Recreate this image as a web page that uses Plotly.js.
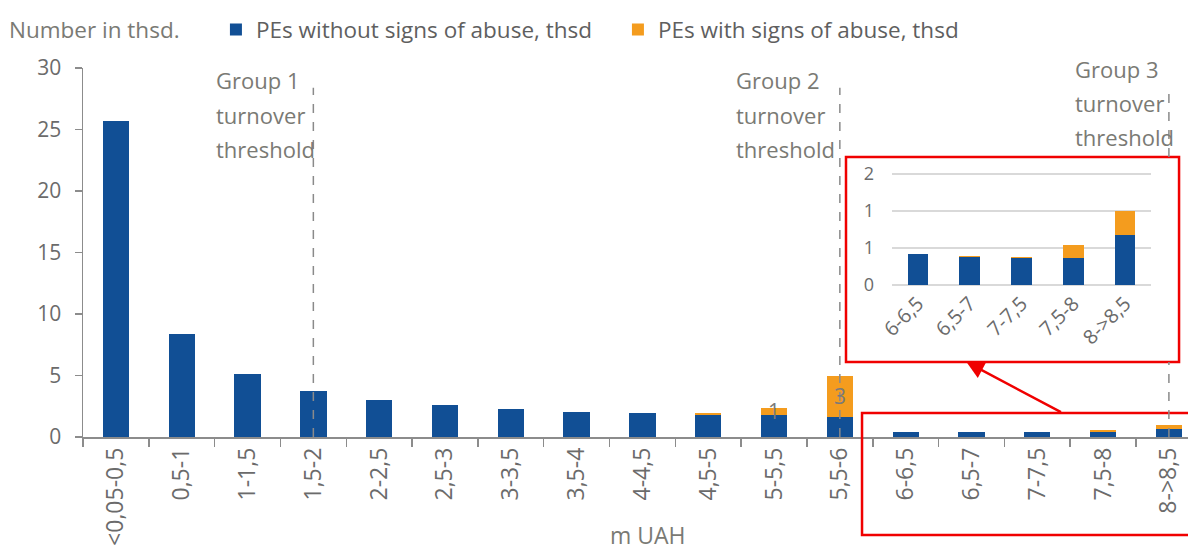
<!DOCTYPE html>
<html>
<head>
<meta charset="utf-8">
<script src="https://cdn.plot.ly/plotly-3.0.1.min.js"></script>
<style>html,body{margin:0;padding:0;background:#fff;}#chart{width:1188px;height:554px;}</style>
</head>
<body>
<div id="chart"></div>
<script>
// ---- data ----
var categories = ["<0,05-0,5","0,5-1","1-1,5","1,5-2","2-2,5","2,5-3","3-3,5","3,5-4","4-4,5","4,5-5","5-5,5","5,5-6","6-6,5","6,5-7","7-7,5","7,5-8","8->8,5"];
var noAbuse   = [25.7, 8.37, 5.12, 3.7, 2.98, 2.6, 2.27, 2.03, 1.95, 1.8, 1.79, 1.63, 0.42, 0.38, 0.37, 0.37, 0.68];
var withAbuse = [0, 0, 0, 0, 0, 0, 0, 0, 0, 0.15, 0.57, 3.33, 0, 0.01, 0.005, 0.17, 0.32];
var abuseLabels = ["","","","","","","","","","","1","3","","","","",""];
var insetCount = 5;
var insetCategories = categories.slice(-insetCount);
var insetNoAbuse = noAbuse.slice(-insetCount);
var insetWithAbuse = withAbuse.slice(-insetCount);
var insetTickVals = [0, 0.5, 1, 1.5];
var insetTickText = ["0", "1", "1", "2"];
var seriesNames = ["PEs without signs of abuse, thsd", "PEs with signs of abuse, thsd"];
var thresholdCats = ["1,5-2", "5,5-6", "8->8,5"];
var thresholdLines = [["Group 1","turnover","threshold"],["Group 2","turnover","threshold"],["Group 3","turnover","threshold"]];
var yTitle = "Number in thsd.";
var xTitle = "m UAH";

// ---- style ----
var BLUE = "#114F95", ORANGE = "#F49C1E", RED = "#F00000";
var FONT = "'Open Sans', sans-serif";
var TICKC = "#6b6b6b", TEXTC = "#7a7a74", AXC = "#8c8c8c";

var traces = [
  {type:"bar", x:categories, y:noAbuse, name:seriesNames[0], marker:{color:BLUE}, width:0.4, xaxis:"x", yaxis:"y"},
  {type:"bar", x:categories, y:withAbuse, name:seriesNames[1], marker:{color:ORANGE}, width:0.4, xaxis:"x", yaxis:"y"},
  {type:"bar", x:insetCategories, y:insetNoAbuse, marker:{color:BLUE}, width:0.4, xaxis:"x2", yaxis:"y2", showlegend:false},
  {type:"bar", x:insetCategories, y:insetWithAbuse, marker:{color:ORANGE}, width:0.4, xaxis:"x2", yaxis:"y2", showlegend:false}
];

// inset box in paper coords
var inset = {x0:0.6905, x1:0.9919, y0:0.2033, y1:0.7588};

var shapes = [];
shapes.push({type:"rect", xref:"paper", yref:"paper", x0:inset.x0, x1:inset.x1, y0:inset.y0, y1:inset.y1,
  fillcolor:"#ffffff", line:{color:RED, width:2.5}, layer:"below"});
shapes.push({type:"rect", xref:"paper", yref:"paper", x0:0.705, x1:1.02, y0:-0.2656, y1:0.065,
  fillcolor:"rgba(0,0,0,0)", line:{color:RED, width:2.5}, layer:"above"});
var lineTop = 28.4;
thresholdCats.forEach(function(c, i){
  var dash = {color:"#8a8a8a", width:1.5, dash:"dash"};
  if (i < 2) {
    shapes.push({type:"line", xref:"x", yref:"y", x0:c, x1:c, y0:0, y1:lineTop, line:dash, layer:"above"});
  } else {
    shapes.push({type:"line", xref:"x", yref:"paper", x0:c, x1:c, y0:0, y1:inset.y0, line:dash, layer:"above"});
    shapes.push({type:"line", xref:"x", yref:"paper", x0:c, x1:c, y0:inset.y1, y1:lineTop/30, line:dash, layer:"above"});
  }
});

var annotations = [];
// value labels on the orange segments (centred in the segment)
abuseLabels.forEach(function(t, i){
  if (!t) return;
  annotations.push({xref:"x", yref:"y", x:categories[i], y:noAbuse[i] + withAbuse[i]/2, text:t, showarrow:false,
    xanchor:"center", yanchor:"middle", font:{family:FONT, size:21, color:"#7a7a7a"}});
});
var groupX = [-99, -106, -96];
var groupY = [[0.967, 0.873, 0.781], [0.967, 0.873, 0.781], [0.997, 0.905, 0.813]];
thresholdCats.forEach(function(c, i){
  thresholdLines[i].forEach(function(t, j){
    annotations.push({xref:"x", yref:"paper", x:c, y:groupY[i][j], xshift:groupX[i], xanchor:"left", yanchor:"middle",
      text:t, showarrow:false, font:{family:FONT, size:22, color:TEXTC}});
  });
});
annotations.push({xref:"paper", yref:"paper", x:-0.069, y:1.103, xanchor:"left", yanchor:"middle", text:yTitle,
  showarrow:false, font:{family:FONT, size:22.5, color:TEXTC}});
annotations.push({xref:"paper", yref:"paper", x:0.511, y:-0.3144, xanchor:"center", yanchor:"bottom", text:xTitle,
  showarrow:false, font:{family:FONT, size:23, color:TEXTC}});
annotations.push({xref:"paper", yref:"paper", x:0.7995, y:inset.y0, ax:96, ay:51, text:"", showarrow:true,
  arrowhead:2, arrowsize:1.4, arrowwidth:2.5, arrowcolor:RED, standoff:0, startstandoff:0});

var layout = {
  width:1188, height:554,
  margin:{l:83, r:0, t:68, b:117},
  paper_bgcolor:"#ffffff", plot_bgcolor:"#ffffff",
  barmode:"stack",
  font:{family:FONT, size:18, color:TICKC},
  showlegend:true,
  legend:{orientation:"h", x:0.1203, y:1.103, xanchor:"left", yanchor:"middle", traceorder:"normal",
    font:{family:FONT, size:22.5, color:"#5f5f5f"}, itemwidth:30, entrywidth:357, entrywidthmode:"pixels",
    bgcolor:"rgba(0,0,0,0)"},
  xaxis:{type:"category", domain:[0,1], range:[-0.5, 16.29], tickangle:-90, ticks:"outside", tickson:"boundaries",
    ticklen:8, tickcolor:AXC, tickwidth:1.5, showline:true, linecolor:AXC, linewidth:1.5, showgrid:false,
    tickfont:{family:FONT, size:23, color:TICKC}, fixedrange:true, anchor:"y"},
  yaxis:{range:[0,30], dtick:5, ticks:"outside", ticklen:7, tickcolor:AXC, tickwidth:1.5, showline:true, linecolor:AXC,
    linewidth:1.5, showgrid:false, zeroline:false, ticklabelstandoff:9, tickfont:{family:FONT, size:21, color:TICKC},
    fixedrange:true, anchor:"x"},
  xaxis2:{type:"category", domain:[0.7321, 0.9665], anchor:"y2", tickangle:-45, showline:false, ticks:"",
    showgrid:false, tickfont:{family:FONT, size:20, color:TICKC}, fixedrange:true},
  yaxis2:{domain:[0.4065, 0.7181], anchor:"x2", range:[-0.027, 1.527], tickvals:insetTickVals, ticktext:insetTickText,
    showgrid:true, gridcolor:"#d9d9d9", gridwidth:2, zeroline:false, showline:false, ticks:"", ticklabelstandoff:17,
    tickfont:{family:FONT, size:18, color:TICKC}, fixedrange:true},
  shapes:shapes,
  annotations:annotations,
  hovermode:false
};

Plotly.newPlot("chart", traces, layout, {displayModeBar:false, staticPlot:true});
</script>
</body>
</html>
